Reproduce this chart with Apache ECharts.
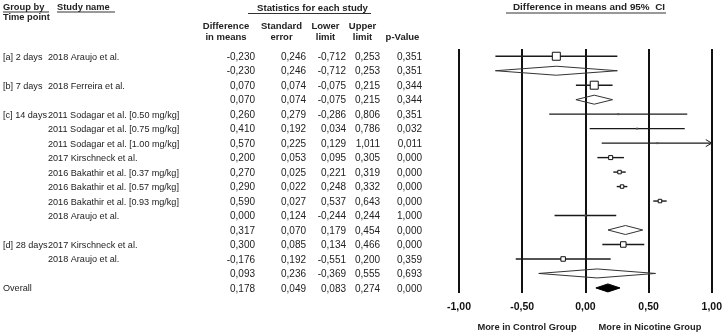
<!DOCTYPE html>
<html>
<head>
<meta charset="utf-8">
<script src="https://cdn.jsdelivr.net/npm/echarts@6/dist/echarts.min.js"></script>
<style>html,body{margin:0;padding:0;background:#fff;}#chart{width:725px;height:335px;}</style>
</head>
<body>
<div id="chart"></div>
<script>
// ---- data ----
const groupLabels = ['[a] 2 days','','[b] 7 days','','[c] 14 days','','','','','','','','','[d] 28 days','','','Overall'];
const studyNames = ['2018 Araujo et al.','','2018 Ferreira et al.','',
  '2011 Sodagar et al. [0.50 mg/kg]','2011 Sodagar et al. [0.75 mg/kg]','2011 Sodagar et al. [1.00 mg/kg]',
  '2017 Kirschneck et al.','2016 Bakathir et al. [0.37 mg/kg]','2016 Bakathir et al. [0.57 mg/kg]',
  '2016 Bakathir et al. [0.93 mg/kg]','2018 Araujo et al.','','2017 Kirschneck et al.','2018 Araujo et al.','',''];
const diffMeans  = [-0.230,-0.230,0.070,0.070,0.260,0.410,0.570,0.200,0.270,0.290,0.590,0.000,0.317,0.300,-0.176,0.093,0.178];
const stdErr     = [0.246,0.246,0.074,0.074,0.279,0.192,0.225,0.053,0.025,0.022,0.027,0.124,0.070,0.085,0.192,0.236,0.049];
const lowerLimit = [-0.712,-0.712,-0.075,-0.075,-0.286,0.034,0.129,0.095,0.221,0.248,0.537,-0.244,0.179,0.134,-0.551,-0.369,0.083];
const upperLimit = [0.253,0.253,0.215,0.215,0.806,0.786,1.011,0.305,0.319,0.332,0.643,0.244,0.454,0.466,0.200,0.555,0.274];
const pValues    = [0.351,0.351,0.344,0.344,0.351,0.032,0.011,0.000,0.000,0.000,0.000,1.000,0.000,0.000,0.359,0.693,0.000];
const rowKind    = ['study','subtotal','study','subtotal','study','study','study','study','study','study','study','study','subtotal','study','study','subtotal','overall'];
const relWeight  = [1,0,1,0,0.03,0.03,0.03,0.25,0.19,0.19,0.19,0.03,0,0.47,0.32,0,0];
const xTicks = [-1,-0.5,0,0.5,1];

// ---- chart ----
const FONT = "'Liberation Sans', Arial, sans-serif";
const TXT = '#222';
const fmt3 = v => v.toFixed(3).replace('.', ',');
const fmt2 = v => v.toFixed(2).replace('.', ',');
const rowIdx = diffMeans.map((_, i) => i + 1);

const chart = echarts.init(document.getElementById('chart'), null, {renderer: 'canvas'});

function renderForest(params, api) {
  const i = api.value(4);
  const row = api.value(0);
  const kind = rowKind[i];
  const xMax = xTicks[xTicks.length - 1], xMin = xTicks[0];
  const y = api.coord([0, row])[1];
  const lo = Math.max(api.value(2), xMin), hi = Math.min(api.value(3), xMax);
  const xl = api.coord([lo, row])[0];
  const xu = api.coord([hi, row])[0];
  const xd = api.coord([api.value(1), row])[0];
  const children = [];
  if (kind === 'study') {
    children.push({type: 'line', shape: {x1: xl, y1: y, x2: xu, y2: y}, style: {stroke: '#1a1a1a', lineWidth: 1.4}});
    if (api.value(3) > xMax) {
      children.push({type: 'polyline', shape: {points: [[xu - 6, y - 3.5], [xu, y], [xu - 6, y + 3.5]]}, style: {stroke: '#1a1a1a', lineWidth: 1, fill: null}});
    }
    const s = 8 * Math.sqrt(relWeight[i]);
    if (s < 2) {
      children.push({type: 'rect', shape: {x: xd - 1, y: y - 1, width: 2, height: 2}, style: {fill: '#555'}});
    } else {
      children.push({type: 'rect', shape: {x: xd - s / 2, y: y - s / 2, width: s, height: s}, style: {fill: '#fff', stroke: '#111', lineWidth: 1}});
    }
  } else {
    const h = kind === 'overall' ? 8 : 9;
    children.push({type: 'polygon', shape: {points: [[xl, y], [xd, y - h / 2], [xu, y], [xd, y + h / 2]]},
      style: kind === 'overall' ? {fill: '#000', stroke: '#000', lineWidth: 1} : {fill: null, stroke: '#333', lineWidth: 1}});
  }
  return {type: 'group', children};
}

const colRight = [255, 306, 346, 380, 422];
function renderTable(params, api) {
  const i = api.value(2);
  const y = api.coord([0, api.value(1)])[1] + 1;
  const base = {fontFamily: FONT, fontSize: 10, fill: TXT, verticalAlign: 'middle'};
  const lbl = Object.assign({}, base, {fontSize: 9.1, align: 'left'});
  const ch = [];
  if (groupLabels[i]) ch.push({type: 'text', x: 3, y, style: Object.assign({}, lbl, {text: groupLabels[i]})});
  if (studyNames[i]) ch.push({type: 'text', x: 48, y, style: Object.assign({}, lbl, {text: studyNames[i]})});
  const vals = [diffMeans[i], stdErr[i], lowerLimit[i], upperLimit[i], pValues[i]];
  vals.forEach((v, k) => ch.push({type: 'text', x: colRight[k], y, style: Object.assign({}, base, {text: fmt3(v), align: 'right'})}));
  return {type: 'group', children: ch};
}

function hdr(text, x, y, align, size) {
  return {type: 'text', x, y, style: {text, fontFamily: FONT, fontWeight: 'bold', fontSize: size || 9.3, fill: TXT, align: align || 'left', verticalAlign: 'middle'}};
}
function uline(x1, x2, y) {
  return {type: 'line', shape: {x1, y1: y, x2, y2: y}, style: {stroke: '#333', lineWidth: 1}};
}

chart.setOption({
  backgroundColor: '#fff',
  animation: false,
  grid: {left: 459, right: 13, top: 49, bottom: 42, containLabel: false},
  xAxis: {
    type: 'value', min: xTicks[0], max: xTicks[xTicks.length - 1], interval: 0.5,
    axisLine: {show: false}, axisTick: {show: false},
    axisLabel: {formatter: v => fmt2(v), fontFamily: FONT, fontWeight: 'bold', fontSize: 10.5, color: '#111', margin: 9},
    splitLine: {show: true, lineStyle: {color: '#111', width: 2}}
  },
  yAxis: {type: 'value', inverse: true, min: 0.5, max: 17.35, show: false, splitLine: {show: false}},
  series: [
    {type: 'custom', name: 'forest', renderItem: renderForest, clip: false,
      encode: {x: [1, 2, 3], y: 0},
      data: rowIdx.map((r, i) => [r, diffMeans[i], lowerLimit[i], upperLimit[i], i])},
    {type: 'custom', name: 'table', renderItem: renderTable, clip: false,
      encode: {x: 0, y: 1},
      data: rowIdx.map((r, i) => [0, r, i])}
  ],
  graphic: [
    hdr('Group by', 3, 7), uline(3, 49, 12),
    hdr('Time point', 3, 17),
    hdr('Study name', 57, 7), uline(57, 115, 12),
    hdr('Statistics for each study', 312.5, 8, 'center', 9.6), uline(248, 371, 13.5),
    hdr('Difference', 226, 26, 'center', 9.5), hdr('in means', 226, 37, 'center', 9.5),
    hdr('Standard', 281.5, 26, 'center', 9.5), hdr('error', 281.5, 37, 'center', 9.5),
    hdr('Lower', 325.5, 26, 'center', 9.5), hdr('limit', 325.5, 37, 'center', 9.5),
    hdr('Upper', 362.5, 26, 'center', 9.5), hdr('limit', 362.5, 37, 'center', 9.5),
    hdr('p-Value', 402.5, 37, 'center', 9.5),
    hdr('Difference in means and 95%  CI', 589, 7, 'center', 9.9), uline(506, 666, 13),
    hdr('More in Control Group', 527, 327, 'center', 9.3),
    hdr('More in Nicotine Group', 650, 327, 'center', 9.3)
  ]
});
</script>
</body>
</html>
